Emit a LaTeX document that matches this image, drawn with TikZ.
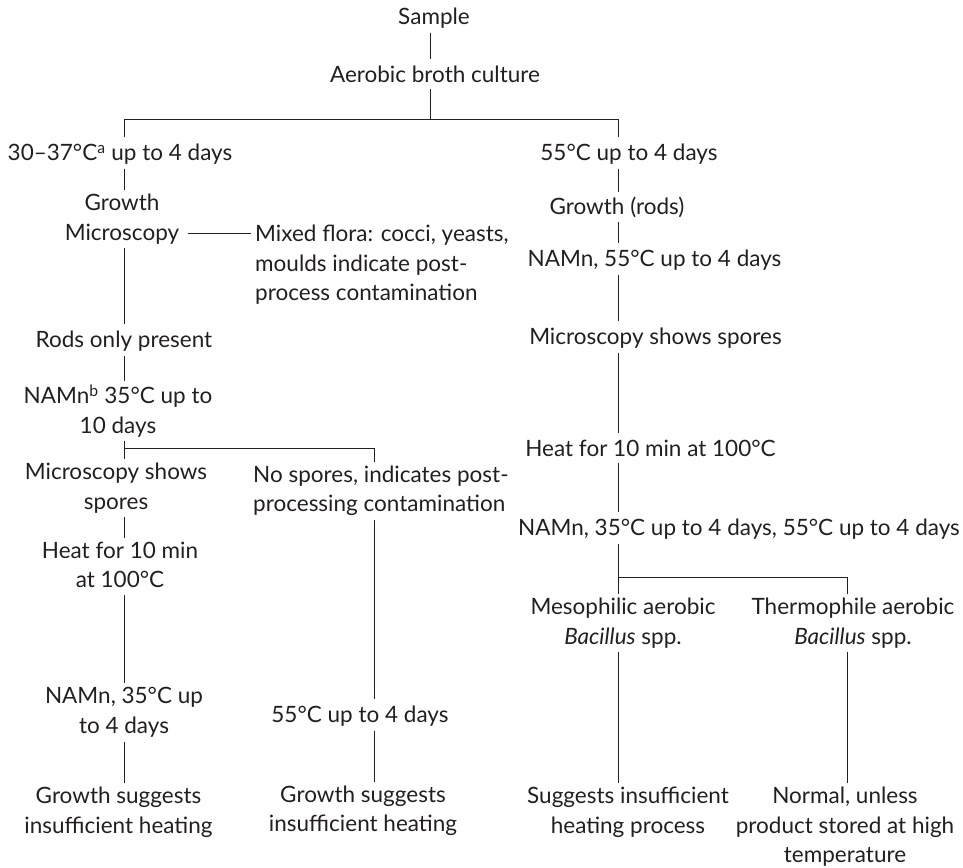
\documentclass[tikz,border=0pt]{standalone}
\usepackage{fontspec}
\setmainfont{Lato}
\definecolor{ink}{HTML}{231F20}
% invisible strut that gives every text line the same height and depth
\newcommand{\linestrut}{\rule[-3pt]{0pt}{22pt}}
\begin{document}
\begin{tikzpicture}[x=1pt,y=-1pt,
  lbl/.style={inner sep=1pt, align=center,
              font=\fontsize{22.5}{29.5}\selectfont, text=ink,
              execute at begin node=\linestrut, execute at end node=\linestrut},
  lbll/.style={lbl, align=left, anchor=west},
  conn/.style={draw=ink, line width=1pt},
  gap/.style={shorten <=3pt, shorten >=3pt},
  gaps/.style={shorten <=3pt},
  gape/.style={shorten >=3pt}]
\useasboundingbox (0,0) rectangle (963,867);

% columns and junctions
\coordinate (xC) at (430,0);
\coordinate (xL) at (124,0);
\coordinate (xM) at (374,0);
\coordinate (xR) at (618,0);
\coordinate (xT) at (847,0);
\coordinate (jTop) at (430,119);
\coordinate (jL) at (124,448);
\coordinate (jR) at (618,577);

% top
\node[lbl] (samp) at (434,17) {Sample};
\node[lbl] (aer) at (435,74) {Aerobic broth culture};

% left branch
\node[lbl] (lt) at (120,153) {30--37°C\textsuperscript{a} up to 4 days};
\node[lbl] (lgrow) at (122,219) {Growth\\Microscopy};
\node[lbll] (mixed) at (254,265) {Mixed flora: cocci, yeasts,\\moulds indicate post-\\process contamination};
\node[lbl] (rods) at (124,340) {Rods only present};
\node[lbl] (namb) at (118,411) {NAMn\textsuperscript{b} 35°C up to\\10 days};
\node[lbl] (lmic) at (116,488) {Microscopy shows\\spores};
\node[lbl] (lheat) at (120,566.5) {Heat for 10 min\\at 100°C};
\node[lbl] (lnam) at (124,712.5) {NAMn, 35°C up\\to 4 days};
\node[lbl] (lres) at (118.5,812.5) {Growth suggests\\insufficient heating};

\node[lbll] (nosp) at (252,491) {No spores, indicates post-\\processing contamination};
\node[lbl] (m55) at (360,715) {55°C up to 4 days};
\node[lbl] (mres) at (363,811) {Growth suggests\\insufficient heating};

% right branch
\node[lbl] (r55) at (629,153) {55°C up to 4 days};
\node[lbl] (rgrow) at (617,207) {Growth (rods)};
\node[lbl] (rnam) at (654.5,259) {NAMn, 55°C up to 4 days};
\node[lbl] (rmic) at (655.5,337) {Microscopy shows spores};
\node[lbl] (rheat) at (650.5,448) {Heat for 10 min at 100°C};
\node[lbl] (rboth) at (739,528) {NAMn, 35°C up to 4 days, 55°C up to 4 days};
\node[lbl] (meso) at (623,623) {Mesophilic aerobic\\\textit{Bacillus} spp.};
\node[lbl] (thermo) at (853,623) {Thermophile aerobic\\\textit{Bacillus} spp.};
\node[lbl] (rres) at (628,812.5) {Suggests insufficient\\heating process};
\node[lbl] (normal) at (845,827) {Normal, unless\\product stored at high\\temperature};

% connectors: top
\draw[conn,gap] (samp.south -| xC) -- (aer.north -| xC);
\draw[conn,gaps] (aer.south -| xC) -- (jTop);
\draw[conn,gape] (jTop) -| (lt.north -| xL);
\draw[conn,gape] (jTop) -| (r55.north -| xR);

% connectors: left
\draw[conn,gap] (lt.south -| xL) -- (lgrow.north -| xL);
\draw[conn,shorten <=8pt,shorten >=3pt] ([yshift=-14.75pt]lgrow.east) -- ([yshift=-14.75pt]lgrow.east -| mixed.west);
\draw[conn,gap] (lgrow.south -| xL) -- (rods.north -| xL);
\draw[conn,gap] (rods.south -| xL) -- (namb.north -| xL);
\draw[conn,gaps] (namb.south -| xL) -- (jL);
\draw[conn,gape] (jL) -- (lmic.north -| xL);
\draw[conn,gape] (jL) -| (nosp.north -| xM);
\draw[conn,gap] (lmic.south -| xL) -- (lheat.north -| xL);
\draw[conn,gap] (lheat.south -| xL) -- (lnam.north -| xL);
\draw[conn,gap] (lnam.south -| xL) -- (lres.north -| xL);
\draw[conn,gap] (nosp.south -| xM) -- (m55.north -| xM);
\draw[conn,gap] (m55.south -| xM) -- (mres.north -| xM);

% connectors: right
\draw[conn,gap] (r55.south -| xR) -- (rgrow.north -| xR);
\draw[conn,gap] (rgrow.south -| xR) -- (rnam.north -| xR);
\draw[conn,gap] (rnam.south -| xR) -- (rmic.north -| xR);
\draw[conn,gap] (rmic.south -| xR) -- (rheat.north -| xR);
\draw[conn,gap] (rheat.south -| xR) -- (rboth.north -| xR);
\draw[conn,gaps] (rboth.south -| xR) -- (jR);
\draw[conn,gape] (jR) -- (meso.north -| xR);
\draw[conn,gape] (jR) -| (thermo.north -| xT);
\draw[conn,gap] (meso.south -| xR) -- (rres.north -| xR);
\draw[conn,gap] (thermo.south -| xT) -- (normal.north -| xT);
\end{tikzpicture}
\end{document}
